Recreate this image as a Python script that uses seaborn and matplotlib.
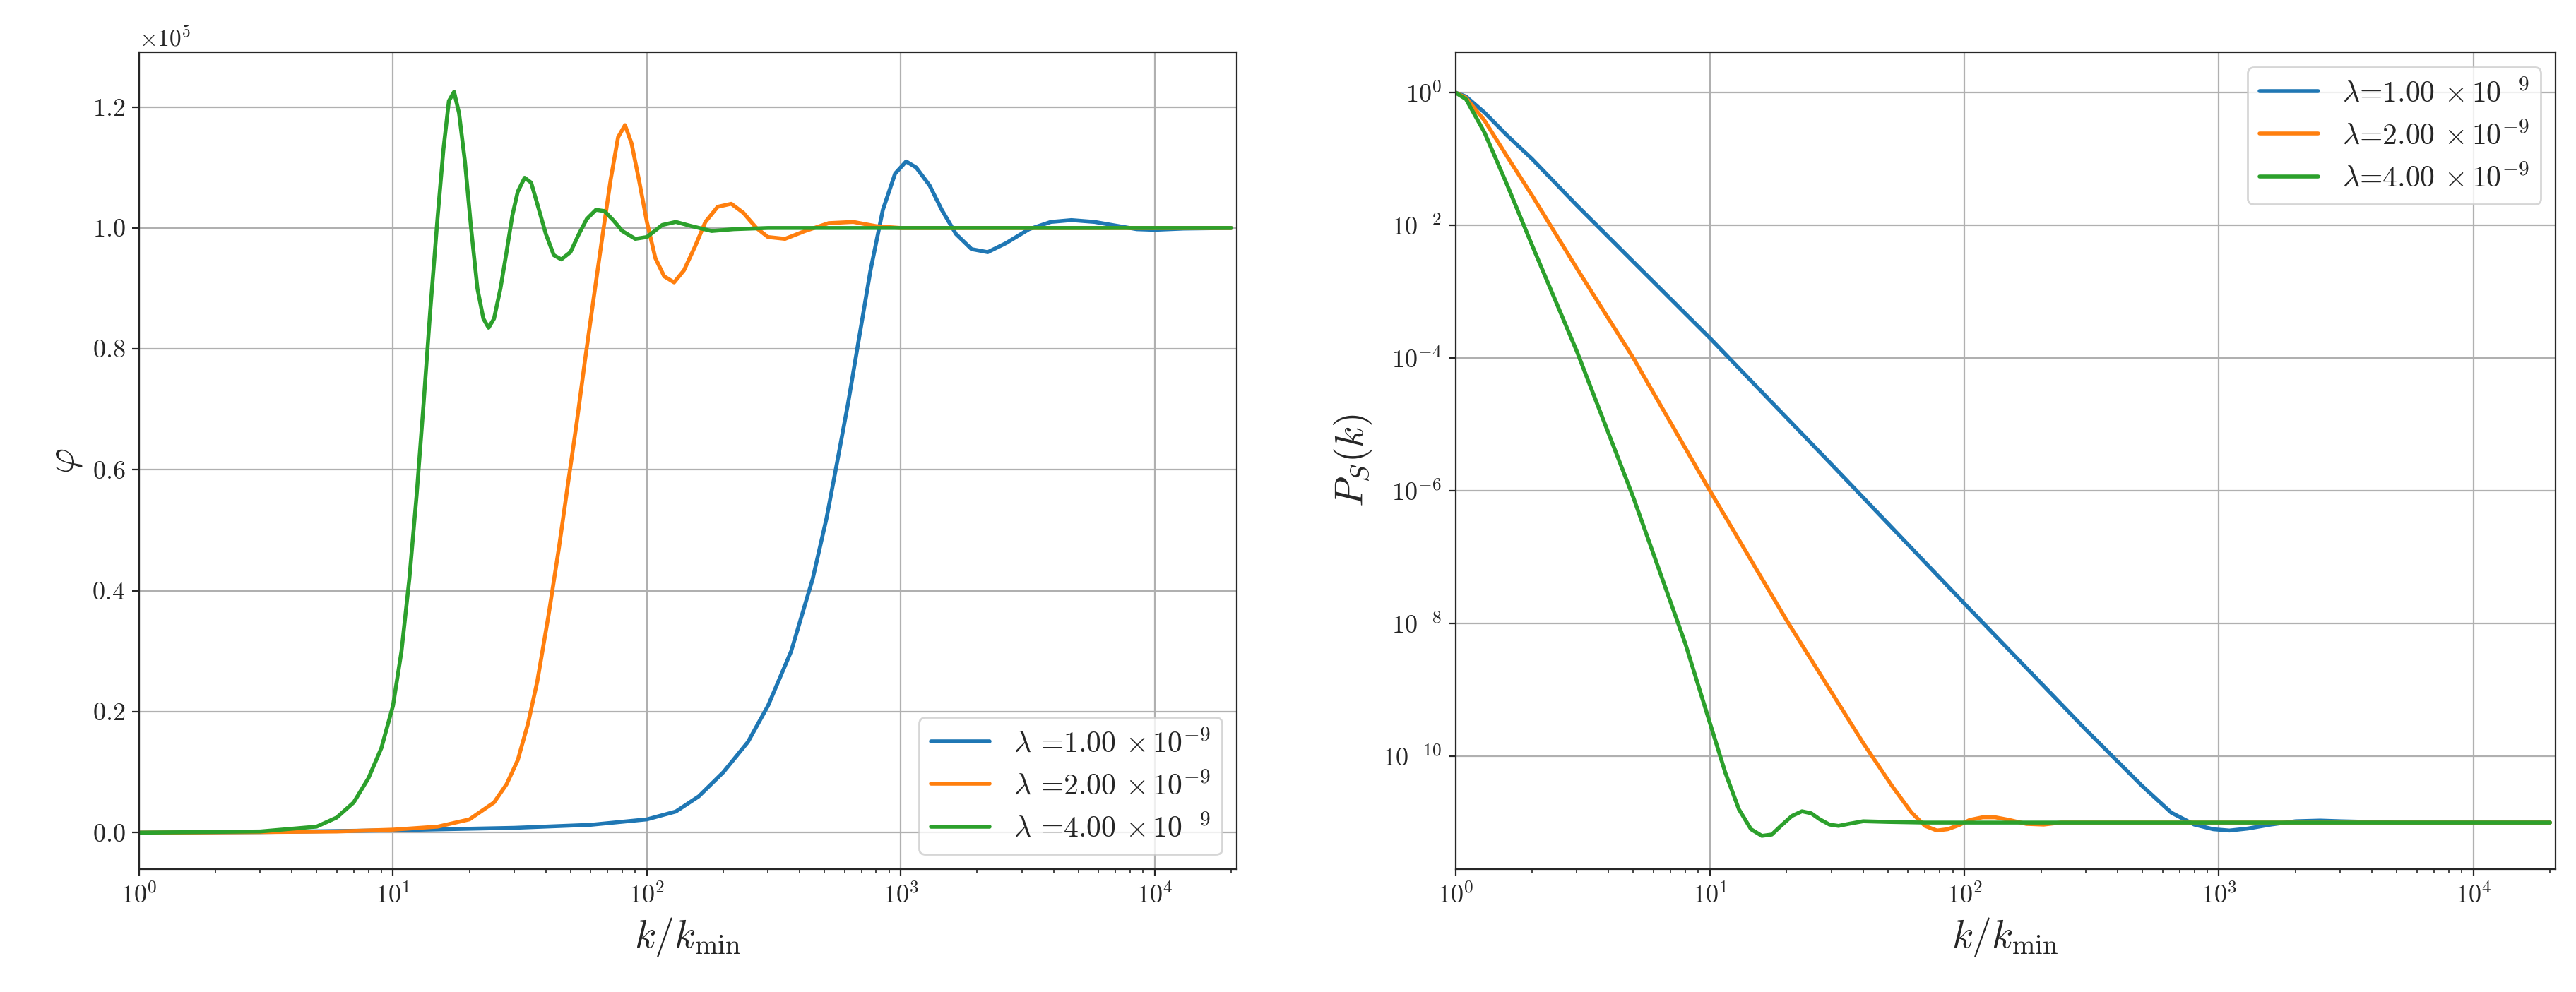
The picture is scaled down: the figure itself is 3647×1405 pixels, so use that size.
import numpy as np
import pandas as pd
import matplotlib
matplotlib.use("Agg")
import matplotlib.pyplot as plt
import seaborn as sns

sns.set_style("ticks")
plt.rcParams['font.family'] = 'serif'
plt.rcParams['font.serif'] = ['cmr10', 'DejaVu Serif']
plt.rcParams['mathtext.fontset'] = 'cm'
plt.rcParams['axes.formatter.use_mathtext'] = True
plt.rcParams['axes.unicode_minus'] = False

# left panel: phi (units of 1e5) vs k/kmin
k_blue = [1, 3, 10, 30, 60, 100, 130, 160, 200, 250, 300, 370, 450, 510, 560, 620, 680, 760, 850, 950, 1050, 1150, 1300, 1450, 1650, 1900, 2200, 2600, 3200, 3900, 4700, 5800, 7000, 8500, 10000, 13000, 20000]
phi_blue = [0, 0.001, 0.004, 0.008, 0.013, 0.022, 0.035, 0.06, 0.1, 0.15, 0.21, 0.3, 0.42, 0.52, 0.61, 0.71, 0.81, 0.93, 1.03, 1.09, 1.11, 1.1, 1.07, 1.03, 0.99, 0.965, 0.96, 0.975, 0.998, 1.01, 1.013, 1.01, 1.004, 0.998, 0.997, 0.999, 1.0]
k_orange = [1, 3, 6, 10, 15, 20, 25, 28, 31, 34, 37, 41, 45, 49, 53, 57, 62, 67, 72, 77, 82, 87, 93, 100, 108, 117, 128, 140, 155, 170, 190, 215, 240, 270, 300, 350, 420, 520, 650, 800, 1000, 2000, 20000]
phi_orange = [0, 0.001, 0.002, 0.005, 0.01, 0.022, 0.05, 0.08, 0.12, 0.18, 0.25, 0.36, 0.47, 0.58, 0.68, 0.78, 0.89, 0.99, 1.08, 1.15, 1.17, 1.14, 1.08, 1.01, 0.95, 0.92, 0.91, 0.93, 0.97, 1.01, 1.035, 1.04, 1.025, 1.0, 0.985, 0.982, 0.995, 1.008, 1.01, 1.003, 1.0, 1.0, 1.0]
k_green = [1, 3, 5, 6, 7, 8, 9, 10, 10.8, 11.6, 12.4, 13.2, 14, 15, 15.8, 16.6, 17.4, 18.2, 19.2, 20.3, 21.5, 22.7, 23.8, 25, 26.5, 28, 29.5, 31, 33, 35, 37, 40, 43, 46, 50, 54, 58, 63, 68, 74, 80, 90, 100, 115, 130, 150, 180, 220, 300, 20000]
phi_green = [0, 0.002, 0.01, 0.025, 0.05, 0.09, 0.14, 0.21, 0.3, 0.42, 0.56, 0.71, 0.86, 1.02, 1.13, 1.21, 1.225, 1.19, 1.11, 1.0, 0.9, 0.85, 0.835, 0.85, 0.9, 0.96, 1.02, 1.06, 1.083, 1.075, 1.04, 0.99, 0.955, 0.948, 0.96, 0.99, 1.015, 1.03, 1.028, 1.012, 0.995, 0.982, 0.985, 1.005, 1.01, 1.003, 0.995, 0.998, 1.0, 1.0]

# right panel: log10 P_S vs k/kmin
kp_blue = [1, 1.1, 1.3, 1.6, 2, 3, 5, 10, 30, 100, 300, 500, 650, 800, 950, 1100, 1300, 1600, 2000, 2500, 3000, 5000, 20000]
lp_blue = [0, -0.06, -0.3, -0.65, -1.0, -1.7, -2.55, -3.7, -5.6, -7.7, -9.6, -10.45, -10.85, -11.03, -11.1, -11.12, -11.09, -11.03, -10.98, -10.97, -10.98, -11.0, -11.0]
kp_orange = [1, 1.1, 1.3, 1.6, 2, 3, 5, 10, 20, 40, 52, 62, 70, 78, 86, 95, 105, 118, 132, 150, 175, 205, 240, 300, 20000]
lp_orange = [0, -0.08, -0.42, -0.97, -1.55, -2.65, -4.0, -6.0, -7.95, -9.8, -10.45, -10.85, -11.05, -11.12, -11.1, -11.04, -10.96, -10.92, -10.92, -10.96, -11.02, -11.03, -11.0, -11.0, -11.0]
kp_green = [1, 1.1, 1.3, 1.6, 2, 3, 5, 8, 10, 11.5, 13, 14.5, 16, 17.5, 19, 21, 23, 25, 27, 29.5, 32, 35, 40, 50, 70, 20000]
lp_green = [0, -0.1, -0.6, -1.4, -2.3, -3.9, -6.1, -8.3, -9.5, -10.25, -10.8, -11.1, -11.2, -11.18, -11.05, -10.9, -10.83, -10.86, -10.95, -11.03, -11.05, -11.02, -10.98, -10.99, -11.0, -11.0]

labels = ['1.00', '2.00', '4.00']
colors = ['#1f77b4', '#ff7f0e', '#2ca02c']


def make_df(ks, vs, fmt):
    frames = []
    for k, v, lab in zip(ks, vs, labels):
        frames.append(pd.DataFrame({'k': k, 'v': v, 'lam': fmt % lab}))
    return pd.concat(frames, ignore_index=True)


df_left = make_df([k_blue, k_orange, k_green], [phi_blue, phi_orange, phi_green],
                  r'$\lambda$ =%s $\times\,10^{-9}$')
df_left['v'] = df_left['v'] * 1e5
df_right = make_df([kp_blue, kp_orange, kp_green], [lp_blue, lp_orange, lp_green],
                   r'$\lambda$=%s $\times\,10^{-9}$')
df_right['v'] = 10.0 ** df_right['v']

fig = plt.figure(figsize=(18.235, 7.025), dpi=200)
ax1 = fig.add_axes([0.054, 0.124, 0.426, 0.823])
ax2 = fig.add_axes([0.565, 0.124, 0.427, 0.823])

sns.lineplot(data=df_left, x='k', y='v', hue='lam', palette=colors, ax=ax1, lw=2, sort=False, estimator=None)
ax1.set_xscale('log')
ax1.set_xlim(1, 2.1e4)
ax1.set_ylim(-0.06e5, 1.29e5)
ax1.ticklabel_format(axis='y', style='sci', scilimits=(5, 5))
ax1.yaxis.get_offset_text().set_fontsize(12)
ax1.set_xlabel(r'$k/k_{\rm min}$', fontsize=20)
ax1.set_ylabel(r'$\varphi$', fontsize=20)
ax1.grid(True, color='#b0b0b0')
ax1.legend(loc='lower right', fontsize=15, title=None)

sns.lineplot(data=df_right, x='k', y='v', hue='lam', palette=colors, ax=ax2, lw=2, sort=False, estimator=None)
ax2.set_xscale('log')
ax2.set_yscale('log')
ax2.set_xlim(1, 2.1e4)
ax2.set_ylim(2e-12, 4)
ax2.set_yticks([1e0, 1e-2, 1e-4, 1e-6, 1e-8, 1e-10])
ax2.set_xlabel(r'$k/k_{\rm min}$', fontsize=20)
ax2.set_ylabel(r'$P_S(k)$', fontsize=20)
ax2.grid(True, color='#b0b0b0')
ax2.legend(loc='upper right', fontsize=15, title=None)

for ax in (ax1, ax2):
    ax.tick_params(labelsize=13)

fig.savefig('out.png', dpi=200)
